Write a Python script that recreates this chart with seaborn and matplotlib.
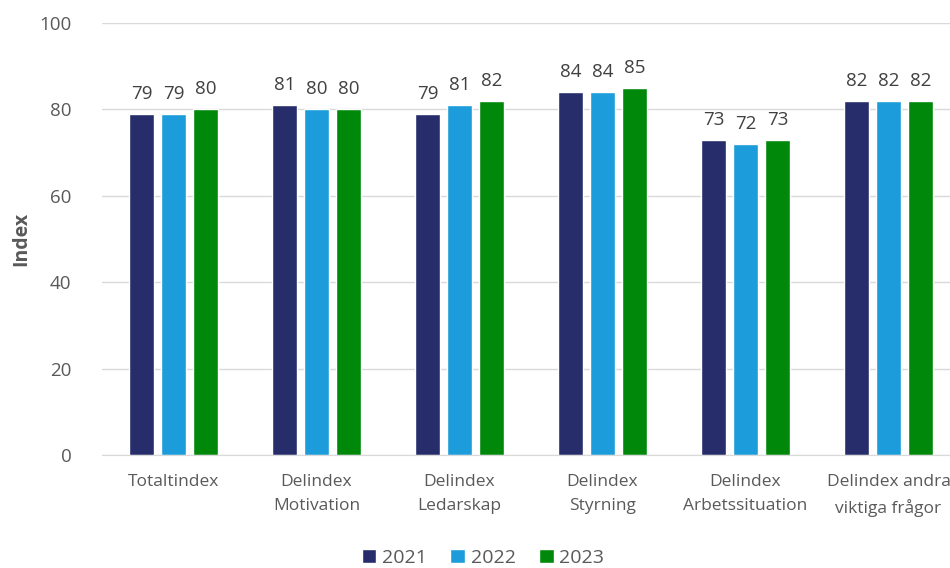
import matplotlib
matplotlib.use("Agg")
import matplotlib.pyplot as plt
import seaborn as sns
import pandas as pd

categories = ["Totaltindex", "Delindex\nMotivation", "Delindex\nLedarskap",
              "Delindex\nStyrning", "Delindex\nArbetssituation",
              "Delindex andra\nviktiga frågor"]
years = ["2021", "2022", "2023"]
v2021 = [79, 81, 79, 84, 73, 82]
v2022 = [79, 80, 81, 84, 72, 82]
v2023 = [80, 80, 82, 85, 73, 82]
colors = ["#262D6A", "#1C9CDA", "#00880A"]

rows = []
for y, vals in zip(years, [v2021, v2022, v2023]):
    for c, v in zip(categories, vals):
        rows.append({"cat": c, "year": y, "value": v})
df = pd.DataFrame(rows)

sns.set_style("white")
plt.rcParams['font.family'] = ['Open Sans', 'DejaVu Sans']
txt = "#595959"

fig = plt.figure(figsize=(9.5, 5.68), dpi=100)
ax = fig.add_axes([102/950, 1-455/568, 858/950, (455-23)/568])
sns.barplot(data=df, x="cat", y="value", hue="year", palette=colors,
            width=0.67, gap=0.19, ax=ax, saturation=1, legend=True)

for cont in ax.containers:
    ax.bar_label(cont, padding=8, fontsize=13.5, color="#404040")

ax.set_ylim(0, 100)
ax.set_yticks([0, 20, 40, 60, 80, 100])
ax.yaxis.grid(True, color="#D9D9D9", linewidth=1)
ax.set_axisbelow(True)
for s in ["top", "right", "left"]:
    ax.spines[s].set_visible(False)
ax.spines["bottom"].set_color("#D9D9D9")
ax.tick_params(axis="both", length=0)
ax.tick_params(axis="y", labelsize=13.5, labelcolor=txt, pad=22)
ax.tick_params(axis="x", labelsize=12.5, labelcolor=txt, pad=14)
for lab in ax.get_xticklabels():
    lab.set_linespacing(1.65)
ax.set_xlabel("")
ax.set_ylabel("Index", fontsize=14, fontweight="bold", color=txt, labelpad=6)

leg = ax.legend(loc="center", bbox_to_anchor=(483/950, 1-558/568),
                bbox_transform=fig.transFigure, ncol=3, frameon=False,
                fontsize=14, handlelength=0.75, handleheight=0.75,
                handletextpad=0.3, columnspacing=1.2, labelcolor=txt)

fig.savefig("out.png", dpi=100)
